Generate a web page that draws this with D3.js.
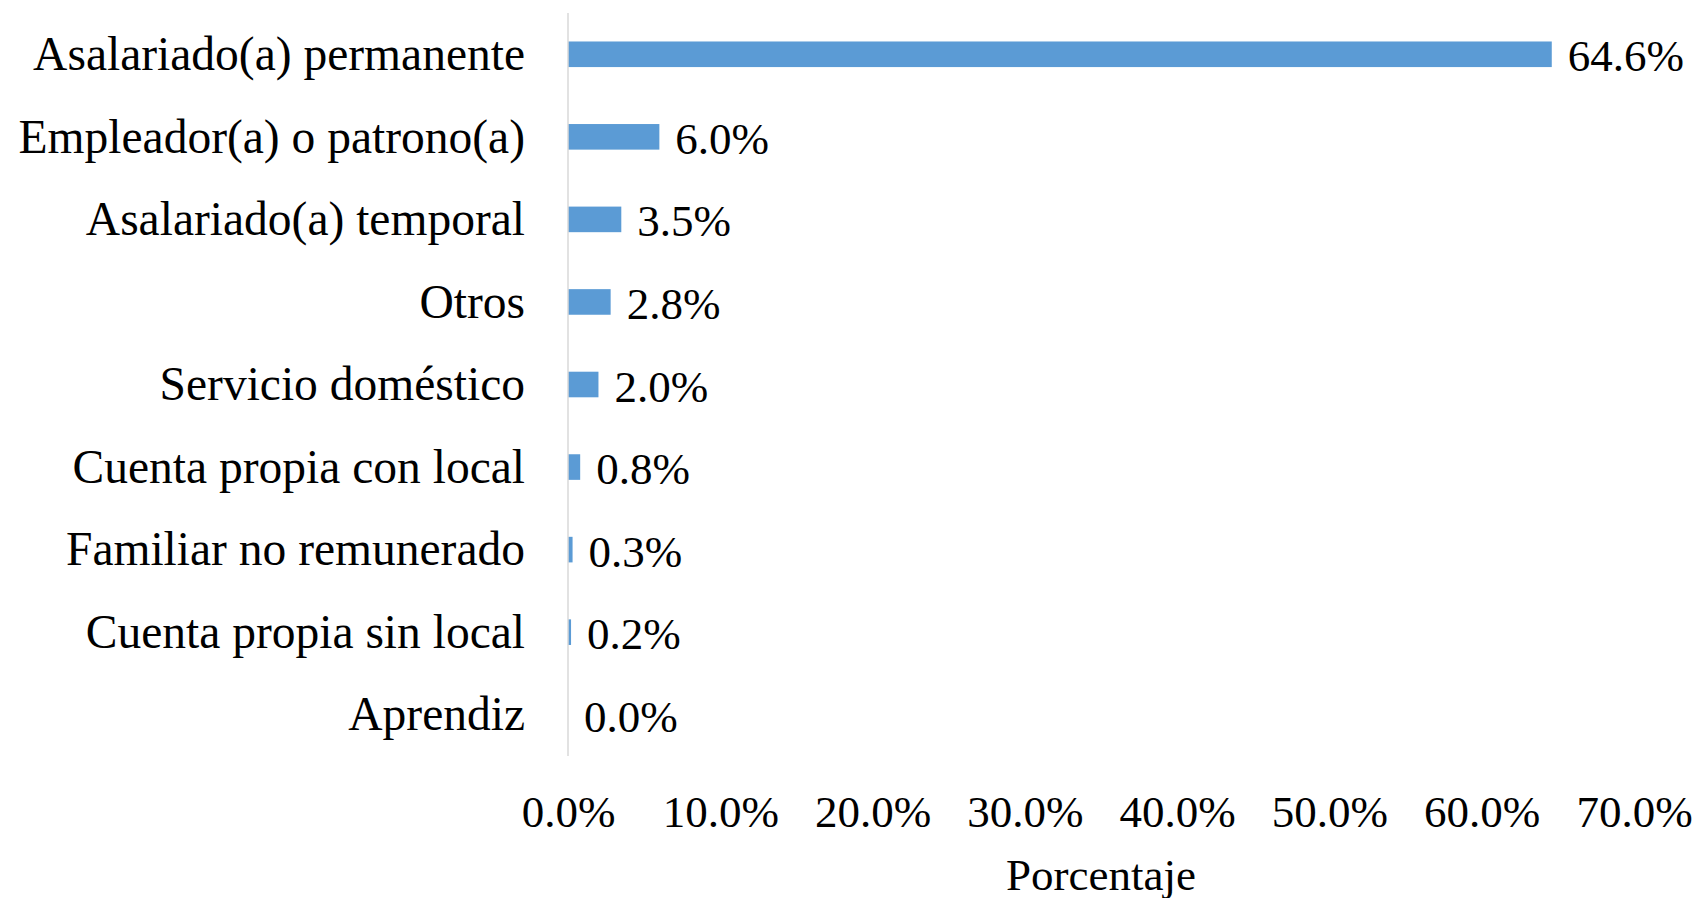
<!DOCTYPE html>
<html>
<head>
<meta charset="utf-8">
<script src="https://cdn.jsdelivr.net/npm/d3@7"></script>
<style>
  html, body { margin: 0; padding: 0; background: #ffffff; }
  svg { display: block; }
  text { font-family: "Liberation Serif", "Times New Roman", serif; fill: #000; }
</style>
</head>
<body>
<svg id="chart" width="1694" height="898"></svg>
<script>
const categories = [
  "Asalariado(a) permanente",
  "Empleador(a) o patrono(a)",
  "Asalariado(a) temporal",
  "Otros",
  "Servicio doméstico",
  "Cuenta propia con local",
  "Familiar no remunerado",
  "Cuenta propia sin local",
  "Aprendiz"
];
const values = [64.6, 6.0, 3.5, 2.8, 2.0, 0.8, 0.3, 0.2, 0.0];
const tickValues = [0, 10, 20, 30, 40, 50, 60, 70];
const axisTitle = "Porcentaje";

const svg = d3.select("#chart");
const plotLeft = 568, plotRight = 1634, plotTop = 13, plotBottom = 756;

const x = d3.scaleLinear().domain([0, 70]).range([plotLeft, plotRight]);
const y = d3.scaleBand().domain(categories).range([plotTop, plotBottom])
  .paddingInner(0.69).paddingOuter(0.345);

// bars
svg.append("g").selectAll("rect")
  .data(values)
  .join("rect")
  .attr("x", x(0))
  .attr("y", (d, i) => y(categories[i]))
  .attr("width", d => x(d) - x(0))
  .attr("height", y.bandwidth())
  .attr("fill", "#5b9bd5");

// vertical axis line
svg.append("line")
  .attr("x1", x(0)).attr("x2", x(0))
  .attr("y1", plotTop).attr("y2", plotBottom)
  .attr("stroke", "#d9d9d9")
  .attr("stroke-width", 1.5);

// category labels
svg.append("g").selectAll("text")
  .data(categories)
  .join("text")
  .attr("x", 525)
  .attr("y", d => y(d) + y.bandwidth() / 2 + 15.7)
  .attr("text-anchor", "end")
  .style("font-size", "47.5px")
  .text(d => d);

// value labels
svg.append("g").selectAll("text")
  .data(values)
  .join("text")
  .attr("x", d => x(d) + 16)
  .attr("y", (d, i) => y(categories[i]) + y.bandwidth() / 2 + 17)
  .style("font-size", "45px")
  .text(d => d.toFixed(1) + "%");

// x axis tick labels
const xAxis = d3.axisBottom(x)
  .tickValues(tickValues)
  .tickSize(0)
  .tickPadding(0)
  .tickFormat(d => d.toFixed(1) + "%");
const gx = svg.append("g").call(xAxis);
gx.select(".domain").remove();
gx.selectAll("text")
  .attr("y", 827)
  .attr("dy", null)
  .style("font-size", "45px")
  .style("font-family", "'Liberation Serif', 'Times New Roman', serif")
  .attr("fill", "#000");

// axis title
svg.append("text")
  .attr("x", (plotLeft + plotRight) / 2)
  .attr("y", 890)
  .attr("text-anchor", "middle")
  .style("font-size", "45px")
  .text(axisTitle);
</script>
</body>
</html>
